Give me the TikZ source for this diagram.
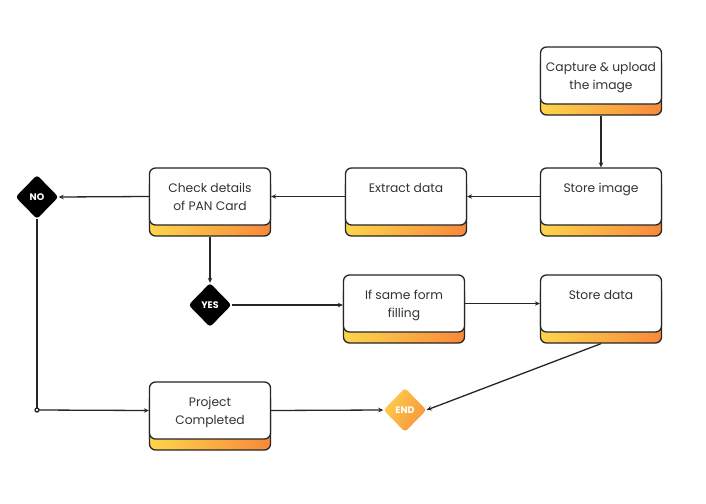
\documentclass[tikz,border=0pt]{standalone}
\usepackage{fontspec}
\setmainfont{Poppins}
\usetikzlibrary{shapes.geometric,arrows.meta,shadows}
\definecolor{gyel}{HTML}{FDD54C}
\definecolor{gora}{HTML}{F8893A}
\definecolor{txt}{HTML}{333333}
\tikzset{
  box/.style={draw=black!85, line width=1.3pt, fill=white, rounded corners=6pt,
    minimum width=121pt, minimum height=57pt, inner sep=0pt,
    copy shadow={shadow xshift=0pt, shadow yshift=-11pt, left color=gyel, right color=gora, draw=black!85, line width=1.3pt}},
  boxtext/.style={anchor=north, align=center, font=\fontsize{12.3}{18}\selectfont, text=txt, inner sep=0pt},
  dec/.style={diamond, fill=black, rounded corners=3pt, minimum width=43pt, minimum height=44pt, inner sep=0pt,
    text=white, font=\fontsize{9.5}{11}\selectfont\bfseries},
  arr/.style={draw=black!85, line width=1.3pt, -{Stealth[length=5pt,width=4.5pt]}},
  ln/.style={draw=black!85, line width=1.3pt}
}
\begin{document}
\begin{tikzpicture}[x=1pt,y=-1pt]
\useasboundingbox[fill=white] (0,0) rectangle (706,503);
% boxes
\node[box] (cap) at (601,75.5) {};
\node[box] (simg) at (601,196.5) {};
\node[box] (ext) at (406,196.5) {};
\node[box] (chk) at (210,196.5) {};
\node[box] (sff) at (404,303.5) {};
\node[box] (sdat) at (601,303.5) {};
\node[box] (prj) at (210,410.5) {};
% texts
\node[boxtext] (capt) at (601,62) {Capture \& upload\\the image};
\node[boxtext] (simgt) at (601,183) {Store image};
\node[boxtext] (extt) at (406,183) {Extract data};
\node[boxtext] (chkt) at (210,183) {Check details\\of PAN Card};
\node[boxtext] (sfft) at (404,290) {If same form\\filling};
\node[boxtext] (sdatt) at (601,290) {Store data};
\node[boxtext] (prjt) at (210,397) {Project\\Completed};
% decisions
\node[dec] (no) at (37,197) {NO};
\node[dec] (yes) at (210,305) {YES};
\node[dec, left color=gyel!90!gora, right color=gora!85!gyel, fill=none, shading angle=60] (endn) at (405,410) {END};
\coordinate (j) at (37,410);
% connectors
\draw[arr] ([yshift=-11pt]cap.south) -- (simg.north);
\draw[arr] (simg.west) -- (ext.east);
\draw[arr] (ext.west) -- (chk.east);
\draw[arr] (chk.west) -- (no.east);
\draw[arr] ([yshift=-11pt]chk.south) -- (yes.north);
\draw[arr] (yes.east) -- (sff.west |- yes.east);
\draw[arr] (sff.east) -- (sdat.west);
\draw[arr] ([yshift=-11pt]sdat.south) -- (endn.east);
\draw[ln] (no.south) -- (j);
\draw[arr] (j) -- (prj.west);
\draw[ln, fill=white] (j) circle (2pt);
\draw[arr] (prj.east) -- (endn.west);
\end{tikzpicture}
\end{document}
